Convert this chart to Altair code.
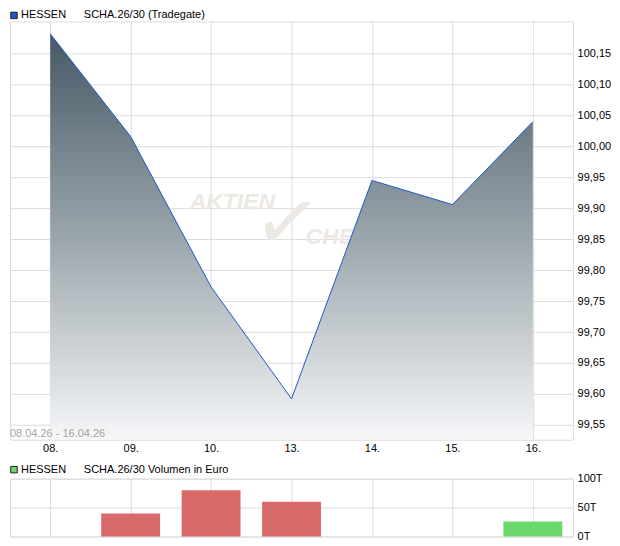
import altair as alt
import pandas as pd

days = ["08.", "09.", "10.", "13.", "14.", "15.", "16."]
prices = [100.182, 100.016, 99.773, 99.592, 99.945, 99.906, 100.040]
volumes = [0, 40, 80, 60, 0, 0, 26]
vol_dir = ["down", "down", "down", "down", "down", "down", "up"]
price_ticks = [99.55, 99.60, 99.65, 99.70, 99.75, 99.80, 99.85, 99.90,
               99.95, 100.00, 100.05, 100.10, 100.15]
price_domain = [99.526, 100.202]
vol_ticks = [0, 50, 100]

FONT = "Liberation Sans"
W = 564
H_MAIN = 419
H_VOL = 58

price_df = pd.DataFrame({"day": days, "price": prices})
vol_df = pd.DataFrame({"day": days, "vol": volumes, "dir": vol_dir})

xscale = alt.Scale(type="point", domain=days, padding=0.5)

x_main = alt.X("day:O", sort=days, scale=xscale,
               axis=alt.Axis(title=None, grid=True, ticks=False, domain=False,
                             labelAngle=0, labelPadding=3, labelFontSize=11,
                             labelFont=FONT, labelColor="#000",
                             gridColor="#dcdcdc"))
y_main = alt.Y("price:Q",
               scale=alt.Scale(domain=price_domain, zero=False, nice=False),
               axis=alt.Axis(title=None, orient="right", values=price_ticks,
                             labelExpr="replace(format(datum.value, '.2f'), '.', ',')",
                             ticks=False, domain=False, labelPadding=4,
                             labelFontSize=11, labelFont=FONT, labelColor="#000",
                             gridColor="#dcdcdc"))

base = alt.Chart(price_df)
one = pd.DataFrame({"a": [0]})

wm1 = alt.Chart(one).mark_text(
    text="AKTIEN", font=FONT, fontSize=23, fontStyle="italic", fontWeight="bold",
    color="#ece8e3", align="left", baseline="middle"
).encode(x=alt.value(180), y=alt.value(181))
wm2 = alt.Chart(one).mark_text(
    text="✓", font="DejaVu Sans", fontSize=80, color="#ece8e3",
    align="left", baseline="middle", angle=8
).encode(x=alt.value(244), y=alt.value(200))
wm3 = alt.Chart(one).mark_text(
    text="CHECK", font=FONT, fontSize=23, fontStyle="italic", fontWeight="bold",
    color="#ece8e3", align="left", baseline="middle"
).encode(x=alt.value(296), y=alt.value(216))

area = base.mark_area(
    color=alt.Gradient(
        gradient="linear",
        stops=[alt.GradientStop(color="#465966", offset=0),
               alt.GradientStop(color="#9aa5ab", offset=0.5),
               alt.GradientStop(color="#f6f7f9", offset=1)],
        x1=0, x2=0, y1=0, y2=1),
    opacity=1
).encode(x=x_main, y=y_main, y2=alt.datum(price_domain[0]))

line = base.mark_line(color="#1f56c8", strokeWidth=1).encode(x=x_main, y=y_main)

date_txt = alt.Chart(one).mark_text(
    text="08.04.26 - 16.04.26", font=FONT, fontSize=11, color="#aaa39c",
    align="left", baseline="middle"
).encode(x=alt.value(0), y=alt.value(H_MAIN - 6))

hdr_sq = alt.Chart(one).mark_point(
    shape="square", size=42, filled=True, fill="#1f56c8", stroke="#222",
    strokeWidth=1, opacity=1
).encode(x=alt.value(4), y=alt.value(-6))
hdr_t1 = alt.Chart(one).mark_text(
    text="HESSEN", font=FONT, fontSize=11, color="#000", align="left",
    baseline="middle").encode(x=alt.value(11), y=alt.value(-6))
hdr_t2 = alt.Chart(one).mark_text(
    text="SCHA.26/30 (Tradegate)", font=FONT, fontSize=11, color="#000",
    align="left", baseline="middle").encode(x=alt.value(74), y=alt.value(-6))

main = alt.layer(wm1, wm2, wm3, area, line, date_txt, hdr_sq, hdr_t1, hdr_t2).properties(
    width=W, height=H_MAIN)

x_vol = alt.X("day:O", sort=days, scale=xscale,
              axis=alt.Axis(title=None, grid=True, ticks=False, domain=False,
                            labels=False, gridColor="#dcdcdc"))
y_vol = alt.Y("vol:Q", scale=alt.Scale(domain=[0, 100], nice=False),
              axis=alt.Axis(title=None, orient="right", values=vol_ticks,
                            labelExpr="datum.value + 'T'", ticks=False,
                            domain=False, labelPadding=4, labelFontSize=11,
                            labelFont=FONT, labelColor="#000",
                            gridColor="#dcdcdc"))

bars = alt.Chart(vol_df).mark_bar(size=59).encode(
    x=x_vol, y=y_vol,
    color=alt.Color("dir:N", scale=alt.Scale(domain=["down", "up"],
                                             range=["#d96a6a", "#6ad86a"]),
                    legend=None))
vsq = alt.Chart(one).mark_point(
    shape="square", size=42, filled=True, fill="#6ad86a", stroke="#222",
    strokeWidth=1, opacity=1
).encode(x=alt.value(4), y=alt.value(-9))
vt1 = alt.Chart(one).mark_text(
    text="HESSEN", font=FONT, fontSize=11, color="#000", align="left",
    baseline="middle").encode(x=alt.value(11), y=alt.value(-9))
vt2 = alt.Chart(one).mark_text(
    text="SCHA.26/30 Volumen in Euro", font=FONT, fontSize=11, color="#000",
    align="left", baseline="middle").encode(x=alt.value(74), y=alt.value(-9))

vol = alt.layer(bars, vsq, vt1, vt2).properties(width=W, height=H_VOL)

chart = alt.vconcat(main, vol, spacing=8).properties(padding=0).configure_view(
    stroke="#c8c8c8").configure(background="white")

chart.save("out.html", embed_options={"renderer": "svg", "actions": False})
